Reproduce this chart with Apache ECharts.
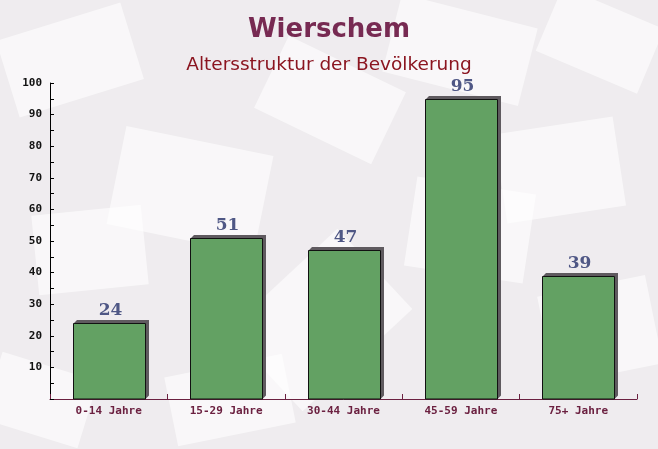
<!DOCTYPE html>
<html><head><meta charset="utf-8">
<script src="https://cdn.jsdelivr.net/npm/echarts@6/dist/echarts.min.js"></script>
<style>html,body{margin:0;padding:0;background:#efecef}#c{width:658px;height:449px}</style>
</head><body><div id="c"></div>
<script>
const categories = ['0-14 Jahre','15-29 Jahre','30-44 Jahre','45-59 Jahre','75+ Jahre'];
const values = [24, 51, 47, 95, 39];
const yTicks = [0,10,20,30,40,50,60,70,80,90,100];

const chart = echarts.init(document.getElementById('c'));
const BW = 72, D = 3.5;
// faint decorative envelope shapes in the background
const env = [
  [190, 190, 150, 100, -0.2], [330, 100, 130, 80, -0.45], [560, 170, 120, 90, 0.15],
  [70, 60, 130, 80, 0.3], [460, 50, 140, 80, -0.25], [600, 40, 110, 70, -0.4],
  [90, 250, 110, 80, 0.1], [320, 320, 150, 110, 0.75], [600, 330, 110, 90, 0.2],
  [470, 230, 120, 90, -0.15], [40, 400, 100, 70, -0.3], [230, 400, 120, 70, 0.2]
];
const graphics = env.map(([cx, cy, w, h, r]) => ({
  type: 'rect', x: cx, y: cy, rotation: r, z: -10, silent: true,
  shape: {x: -w / 2, y: -h / 2, width: w, height: h},
  style: {fill: 'rgba(255,255,255,0.6)'}
}));
chart.setOption({
  backgroundColor: '#efecef',
  animation: false,
  graphic: graphics,
  title: [
    {text: 'Wierschem', left: 'center', top: 12,
     textStyle: {fontFamily: 'DejaVu Sans', fontWeight: 'bold', fontSize: 26, color: '#772a52'}},
    {text: 'Altersstruktur der Bevölkerung', left: 'center', top: 51,
     textStyle: {fontFamily: 'DejaVu Sans', fontWeight: 'normal', fontSize: 18.5, color: '#8b1520'}}
  ],
  grid: {left: 50, right: 21, top: 83, bottom: 50},
  xAxis: {
    type: 'category', data: categories, boundaryGap: true,
    axisLine: {lineStyle: {color: '#6b2040', width: 1}},
    axisTick: {show: true, inside: true, length: 5, lineStyle: {color: '#6b2040', width: 1}},
    axisLabel: {fontFamily: 'DejaVu Sans Mono', fontWeight: 'bold', fontSize: 11, color: '#6b2040', margin: 7}
  },
  yAxis: {
    type: 'value', min: yTicks[0], max: yTicks[yTicks.length-1], interval: 10,
    axisLine: {show: true, lineStyle: {color: '#000', width: 1}},
    axisTick: {show: true, inside: true, length: 4, lineStyle: {color: '#000'}},
    minorTick: {show: true, splitNumber: 2, length: 4, lineStyle: {color: '#000'}},
    splitLine: {show: false},
    axisLabel: {fontFamily: 'DejaVu Sans Mono', fontWeight: 'bold', fontSize: 11, color: '#111', margin: 8,
      formatter: v => v === 0 ? '' : String(v)}
  },
  series: [{
    type: 'custom',
    data: values.map((v, i) => [i, v]),
    encode: {x: 0, y: 1},
    renderItem: function (params, api) {
      const top = api.coord([api.value(0), api.value(1)]);
      const base = api.coord([api.value(0), 0]);
      const x0 = Math.round(top[0] - BW / 2) + 0.5, x1 = x0 + BW;
      const yt = Math.round(top[1]) + 0.5, yb = Math.round(base[1]);
      return {
        type: 'group',
        children: [
          {type: 'polygon', shape: {points: [[x0, yt], [x0 + D, yt - D], [x1 + D, yt - D], [x1 + D, yb - D], [x1, yb], [x1, yt]]},
           style: {fill: '#5f5a5f'}},
          {type: 'rect', shape: {x: x0, y: yt, width: BW, height: yb - yt},
           style: {fill: '#63a163', stroke: '#111', lineWidth: 1}},
          {type: 'text', x: (x0 + x1) / 2 + 1, y: yt - D - 1,
           style: {text: String(api.value(1)), align: 'center', verticalAlign: 'bottom',
             font: 'bold 17px "DejaVu Serif"', fill: '#4f5785'}}
        ]
      };
    }
  }]
});
</script></body></html>
